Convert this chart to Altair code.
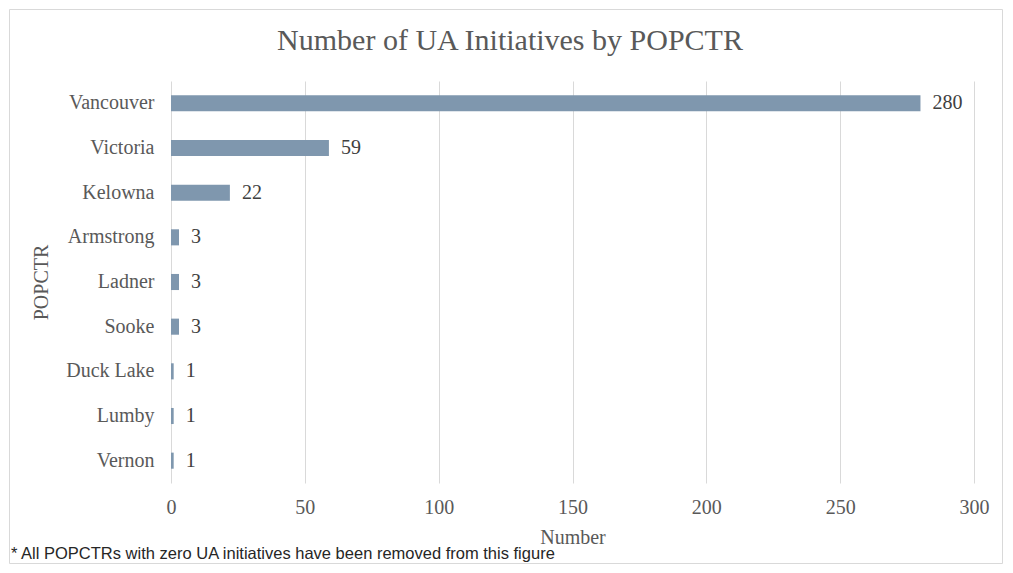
import altair as alt
import pandas as pd

cities = ["Vancouver", "Victoria", "Kelowna", "Armstrong", "Ladner", "Sooke", "Duck Lake", "Lumby", "Vernon"]
counts = [280, 59, 22, 3, 3, 3, 1, 1, 1]
x_ticks = [0, 50, 100, 150, 200, 250, 300]
title_text = ["Number of UA Initiatives by POPCTR"]
footnote = ["* All POPCTRs with zero UA initiatives have been removed from this figure"]

df = pd.DataFrame({"POPCTR": cities, "Number": counts})
note_df = pd.DataFrame({"note": footnote})
title_df = pd.DataFrame({"t": title_text})
frame_df = pd.DataFrame({"k": [1]})

W, H = 803, 402
TOTAL_W, TOTAL_H = 996, 556
PAD_L, PAD_T = 163, 73
PAD_R = TOTAL_W - PAD_L - W
PAD_B = TOTAL_H - PAD_T - H

SERIF = "Liberation Serif"
SANS = "Liberation Sans"
GRAY = "#595959"
BAR = "#7f97ae"

y_enc = alt.Y(
    "POPCTR:N",
    sort=cities,
    scale=alt.Scale(paddingInner=0.64, paddingOuter=0.32),
    axis=alt.Axis(
        title="POPCTR", titleFont=SERIF, titleFontSize=20, titleFontWeight="normal",
        titleColor=GRAY, titlePadding=14,
        labelFont=SERIF, labelFontSize=20, labelColor=GRAY, labelPadding=17,
        ticks=False, domain=False, grid=False,
    ),
)
x_enc = alt.X(
    "Number:Q",
    scale=alt.Scale(domain=[0, 300], nice=False),
    axis=alt.Axis(
        values=x_ticks, title="Number", titleFont=SERIF, titleFontSize=20,
        titleFontWeight="normal", titleColor=GRAY, titlePadding=10,
        labelFont=SERIF, labelFontSize=20, labelColor=GRAY, labelPadding=14,
        labelFlush=False,
        ticks=False, domain=False, grid=True, gridColor="#d9d9d9", gridWidth=1,
    ),
)

frame = alt.Chart(frame_df).mark_rect(
    fill="white", fillOpacity=0, stroke="#d9d9d9", strokeWidth=1
).encode(
    x=alt.value(-PAD_L + 1.5), x2=alt.value(W + PAD_R - 1.5),
    y=alt.value(-PAD_T + 1.5), y2=alt.value(H + PAD_B - 0.5),
)

bars = alt.Chart(df).mark_bar(color=BAR).encode(x=x_enc, y=y_enc)

labels = alt.Chart(df).mark_text(
    align="left", baseline="middle", dx=12, font=SERIF, fontSize=20, color="#404040"
).encode(x="Number:Q", y=alt.Y("POPCTR:N", sort=cities), text="Number:Q")

title = alt.Chart(title_df).mark_text(
    align="center", baseline="alphabetic", font=SERIF, fontSize=30, color=GRAY
).encode(x=alt.value(339), y=alt.value(-31), text="t:N")

note = alt.Chart(note_df).mark_text(
    align="left", baseline="alphabetic", font=SANS, fontSize=16.5, color="#262626"
).encode(x=alt.value(-PAD_L + 3), y=alt.value(H + 76), text="note:N")

chart = alt.layer(frame, bars, labels, title, note).properties(
    width=W, height=H,
    padding={"left": PAD_L, "top": PAD_T, "right": PAD_R, "bottom": PAD_B},
    autosize=alt.AutoSizeParams(type="none"),
).configure(background="white").configure_view(strokeWidth=0)

chart.save("out.html", embed_options={"renderer": "svg", "actions": False})
